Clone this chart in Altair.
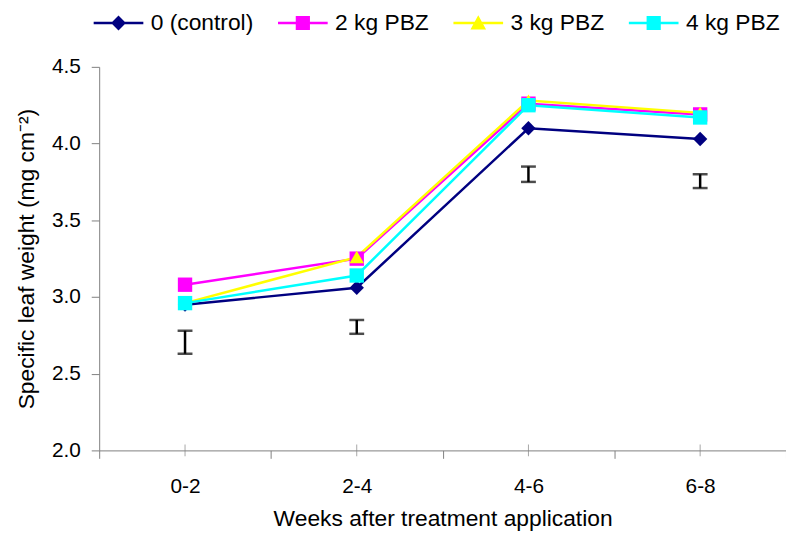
import altair as alt
import pandas as pd

periods = ["0-2", "2-4", "4-6", "6-8"]
series = ["0 (control)", "2 kg PBZ", "3 kg PBZ", "4 kg PBZ"]
control = [2.95, 3.06, 4.10, 4.03]
pbz2 = [3.08, 3.25, 4.26, 4.19]
pbz3 = [2.96, 3.26, 4.28, 4.20]
pbz4 = [2.96, 3.14, 4.25, 4.17]
lsd_low = [2.63, 2.76, 3.75, 3.71]
lsd_high = [2.78, 2.85, 3.85, 3.80]

colors = ["#000080", "#FF00FF", "#FFFF00", "#00FFFF"]
shapes = ["diamond", "square", "triangle-up", "square"]
LINE = "M-3.5,-0.17H3.5V0.17H-3.5Z"
legend_paths = [
    LINE + "M0,-1.05L1.05,0L0,1.05L-1.05,0Z",
    LINE + "M-1,-1H1V1H-1Z",
    LINE + "M0,-1.1L1.1,0.9L-1.1,0.9Z",
    LINE + "M-1,-1H1V1H-1Z",
]

rows = []
for s, vals in zip(series, [control, pbz2, pbz3, pbz4]):
    for p, v in zip(periods, vals):
        rows.append({"period": p, "series": s, "value": v})
df = pd.DataFrame(rows)
err = pd.DataFrame({"period": periods, "low": lsd_low, "high": lsd_high})
axis_df = pd.DataFrame({"period": periods, "base": [2.0] * len(periods)})
legend_df = pd.DataFrame({"period": [periods[0]] * len(series), "series": series,
                          "value": [None] * len(series)})

x_enc = alt.X(
    "period:N",
    sort=periods,
    scale=alt.Scale(type="band", paddingInner=0, paddingOuter=0),
    axis=alt.Axis(
        title="Weeks after treatment application",
        labelAngle=0,
        tickBand="extent",
        tickSize=8,
        labelPadding=17,
        labelFontSize=21,
        titleFontSize=23,
        titlePadding=12,
        titleFontWeight="normal",
        domainColor="#808080",
        tickColor="#808080",
        labelColor="black",
        titleColor="black",
    ),
)
y_scale = alt.Scale(domain=[2.0, 4.5], nice=False, zero=False)
y_axis = alt.Axis(
    title="Specific leaf weight (mg cm\u207B\u00B2)",
    values=[2.0, 2.5, 3.0, 3.5, 4.0, 4.5],
    format=".1f",
    tickSize=8,
    labelPadding=11,
    labelFontSize=21,
    titleFontSize=23,
    titleFontWeight="normal",
    titleX=-61,
    domainColor="#808080",
    tickColor="#808080",
    labelColor="black",
    titleColor="black",
    grid=False,
)

color_scale = alt.Scale(domain=series, range=colors)
legend = alt.Legend(
    title=None,
    orient="none",
    direction="horizontal",
    gridAlign="each",
    legendX=8,
    legendY=-56,
    padding=0,
    labelFontSize=23,
    labelColor="black",
    labelOffset=21,
    columnPadding=24,
    symbolSize=205,
    symbolStrokeWidth=0,
    symbolOpacity=1,
    labelLimit=300,
)

lines = alt.Chart(df).mark_line(strokeWidth=2.5).encode(
    x=x_enc,
    y=alt.Y("value:Q", scale=y_scale, axis=y_axis),
    color=alt.Color("series:N", scale=color_scale, sort=series, legend=legend),
    detail="series:N",
)

legend_layer = alt.Chart(legend_df).mark_point(filled=True, opacity=1, size=205).encode(
    x=alt.X("period:N", sort=periods),
    y=alt.Y("value:Q"),
    color=alt.Color("series:N", scale=color_scale, sort=series, legend=legend),
    shape=alt.Shape("series:N", sort=series,
                    scale=alt.Scale(domain=series, range=legend_paths), legend=legend),
)

point_layers = []
for s, shp in zip(series, shapes):
    point_layers.append(
        alt.Chart(df)
        .transform_filter(alt.FieldEqualPredicate(field="series", equal=s))
        .mark_point(filled=True, opacity=1, size=210, shape=shp)
        .encode(
            x=alt.X("period:N", sort=periods),
            y=alt.Y("value:Q"),
            color=alt.Color("series:N", scale=color_scale, sort=series, legend=legend),
        )
    )

center_ticks = alt.Chart(axis_df).mark_tick(
    orient="vertical", size=12, thickness=1, color="#808080"
).encode(x=alt.X("period:N", sort=periods), y=alt.Y("base:Q"))

err_rule = alt.Chart(err).mark_rule(color="black", strokeWidth=2.5).encode(
    x=alt.X("period:N", sort=periods), y=alt.Y("low:Q"), y2="high:Q"
)
err_low = alt.Chart(err).mark_tick(
    orient="horizontal", size=15, thickness=2.5, color="black"
).encode(x=alt.X("period:N", sort=periods), y=alt.Y("low:Q"))
err_high = alt.Chart(err).mark_tick(
    orient="horizontal", size=15, thickness=2.5, color="black"
).encode(x=alt.X("period:N", sort=periods), y=alt.Y("high:Q"))

chart = (
    alt.layer(lines, *point_layers, legend_layer, err_rule, err_low, err_high, center_ticks)
    .properties(
        width=693,
        height=387,
        autosize=alt.AutoSizeParams(type="none"),
        padding={"left": 92, "top": 57, "right": 0, "bottom": 85},
    )
    .configure(font="Liberation Sans")
    .configure_view(stroke=None)
)

chart.save("out.html", embed_options={"renderer": "svg", "actions": False})
